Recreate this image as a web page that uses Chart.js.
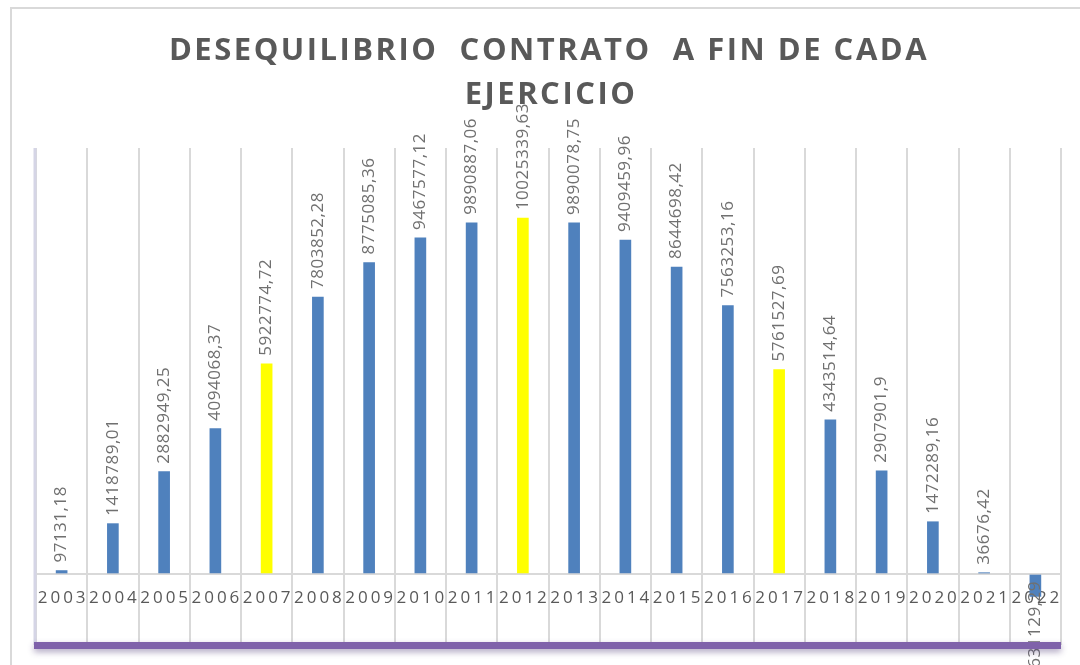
<!DOCTYPE html>
<html>
<head>
<meta charset="utf-8">
<script src="https://cdn.jsdelivr.net/npm/chart.js@4/dist/chart.umd.min.js"></script>
<style>
html,body{margin:0;padding:0;background:#fff;}
#wrap{width:1080px;height:665px;position:relative;}
canvas{display:block;}
</style>
</head>
<body>
<div id="wrap"><canvas id="c" width="1080" height="665"></canvas></div>
<script>
const categories = ["2003","2004","2005","2006","2007","2008","2009","2010","2011","2012","2013","2014","2015","2016","2017","2018","2019","2020","2021","2022"];
const values = [97131.18,1418789.01,2882949.25,4094068.37,5922774.72,7803852.28,8775085.36,9467577.12,9890887.06,10025339.63,9890078.75,9409459.96,8644698.42,7563253.16,5761527.69,4343514.64,2907901.9,1472289.16,36676.42,-631129.29];
const valueLabels = ["97131,18","1418789,01","2882949,25","4094068,37","5922774,72","7803852,28","8775085,36","9467577,12","9890887,06","10025339,63","9890078,75","9409459,96","8644698,42","7563253,16","5761527,69","4343514,64","2907901,9","1472289,16","36676,42","-631129,29"];
const highlighted = ["2007","2012","2017"];
const titleLines = ["DESEQUILIBRIO  CONTRATO  A FIN DE CADA","EJERCICIO"];

const BLUE = "#4F81BD", YELLOW = "#FFFF00";
const barColors = categories.map(c => highlighted.includes(c) ? YELLOW : BLUE);

const frame = {
  id: "frame",
  beforeDraw(chart) {
    const ctx = chart.ctx;
    ctx.save();
    ctx.fillStyle = "#fff";
    ctx.fillRect(0, 0, chart.width, chart.height);
    ctx.strokeStyle = "#D9D9D9";
    ctx.lineWidth = 2;
    ctx.beginPath();
    ctx.moveTo(11, chart.height);
    ctx.lineTo(11, 8);
    ctx.lineTo(chart.width, 8);
    ctx.stroke();
    ctx.restore();
  },
  beforeDatasetsDraw(chart) {
    const ctx = chart.ctx, a = chart.chartArea;
    const xs = chart.scales.x, ys = chart.scales.y;
    const zero = ys.getPixelForValue(0);
    ctx.save();
    ctx.strokeStyle = "#D5D5E6";
    ctx.lineWidth = 3;
    ctx.beginPath();
    ctx.moveTo(a.left - 1, a.top);
    ctx.lineTo(a.left - 1, a.bottom);
    ctx.stroke();
    ctx.fillStyle = "#595959";
    ctx.font = "17px 'Open Sans'";
    ctx.letterSpacing = "3px";
    ctx.textAlign = "center";
    ctx.textBaseline = "middle";
    categories.forEach((c, i) => {
      ctx.fillText(c, xs.getPixelForValue(i) + 1.5, zero + 24);
    });
    ctx.restore();
  },
  afterDatasetsDraw(chart) {
    const ctx = chart.ctx;
    const meta = chart.getDatasetMeta(0);
    ctx.save();
    ctx.fillStyle = "#707070";
    ctx.font = "17px 'Open Sans'";
    ctx.letterSpacing = "0.5px";
    ctx.textBaseline = "middle";
    meta.data.forEach((bar, i) => {
      const v = values[i];
      ctx.save();
      if (v >= 0) {
        ctx.translate(bar.x, bar.y - 8);
        ctx.rotate(-Math.PI / 2);
        ctx.textAlign = "left";
      } else {
        ctx.translate(bar.x, bar.base + 6);
        ctx.rotate(-Math.PI / 2);
        ctx.textAlign = "right";
      }
      ctx.fillText(valueLabels[i], 0, 0);
      ctx.restore();
    });
    ctx.restore();
  },
  afterDraw(chart) {
    const ctx = chart.ctx, a = chart.chartArea;
    ctx.save();
    ctx.shadowColor = "rgba(80,60,120,0.45)";
    ctx.shadowBlur = 6;
    ctx.shadowOffsetY = 3;
    ctx.fillStyle = "#7F62AA";
    ctx.fillRect(a.left - 2, a.bottom - 3, a.right - a.left + 2, 7);
    ctx.restore();
    ctx.save();
    ctx.fillStyle = "#595959";
    ctx.font = "bold 31px 'Open Sans'";
    ctx.textAlign = "center";
    ctx.textBaseline = "middle";
    ctx.letterSpacing = "2.5px";
    ctx.fillText(titleLines[0], 549, 51);
    ctx.fillText(titleLines[1], 551, 95);
    ctx.restore();
  }
};

new Chart(document.getElementById("c"), {
  type: "bar",
  data: {
    labels: categories,
    datasets: [{
      data: values,
      backgroundColor: barColors,
      borderWidth: 0,
      barThickness: 11
    }]
  },
  options: {
    responsive: false,
    devicePixelRatio: 1,
    animation: false,
    layout: { padding: { left: 36, right: 19, top: 148, bottom: 20 } },
    plugins: { legend: { display: false }, tooltip: { enabled: false }, title: { display: false } },
    scales: {
      x: {
        display: true,
        ticks: { display: false },
        grid: { offset: true, color: "#D9D9D9", lineWidth: 2, drawTicks: false },
        border: { display: false }
      },
      y: {
        display: true,
        min: -2000000,
        max: 12000000,
        ticks: { display: false, stepSize: 1000000 },
        grid: {
          drawTicks: false,
          color: ctx => ctx.tick && ctx.tick.value === 0 ? "#D9D9D9" : "rgba(0,0,0,0)",
          lineWidth: 2
        },
        border: { display: false }
      }
    }
  },
  plugins: [frame]
});
</script>
</body>
</html>
